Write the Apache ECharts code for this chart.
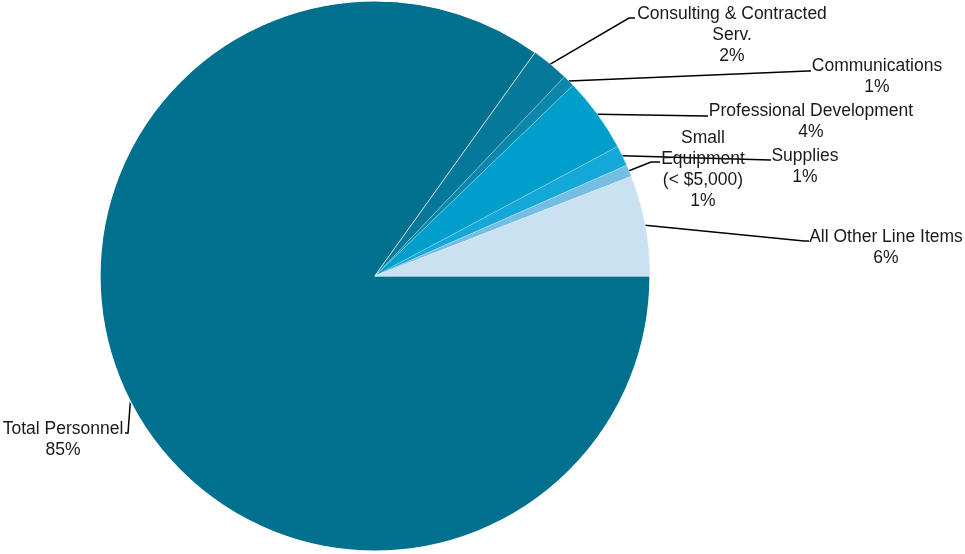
<!DOCTYPE html>
<html>
<head>
<meta charset="utf-8">
<script src="https://cdn.jsdelivr.net/npm/echarts@6/dist/echarts.min.js"></script>
<style>
  html, body { margin: 0; padding: 0; background: #fff; }
  #chart { width: 965px; height: 554px; }
</style>
</head>
<body>
<div id="chart"></div>
<script>
// Budget share by line item (percent of total)
const categories = [
  'Total Personnel',
  'Consulting & Contracted\nServ.',
  'Communications',
  'Professional Development',
  'Supplies',
  'Small\nEquipment\n(< $5,000)',
  'All Other Line Items'
];
const values = [84.9, 2.2, 0.7, 4.4, 1.2, 0.7, 5.9];
const colors = ['#00708f', '#06789a', '#0b87ac', '#009ecb', '#14a8d8', '#74bee3', '#c9e1f1'];

// Where each label sits (centre x, top y) and the elbow of its leader line
const labelPlaces = [
  { x: 63,  y: 419, elbow: [128, 433], end: [125, 433] },
  { x: 732, y: 4,   elbow: [629, 18],  end: [635, 18] },
  { x: 877, y: 56,  elbow: [808, 71],  end: [811, 71] },
  { x: 811, y: 101, elbow: [706, 116], end: [708, 116] },
  { x: 805, y: 146, elbow: [770, 160], end: [771, 160] },
  { x: 703, y: 128, elbow: [651, 162], end: [660, 162] },
  { x: 886, y: 227, elbow: [804, 241], end: [809, 241] }
];

const chart = echarts.init(document.getElementById('chart'));
chart.setOption({
  animation: false,
  textStyle: { fontFamily: 'Liberation Sans, Arial, sans-serif' },
  series: [{
    type: 'pie',
    center: [375, 276],
    radius: 275,
    startAngle: 0,
    clockwise: true,
    percentPrecision: 0,
    data: categories.map((name, i) => ({
      name: name,
      value: values[i],
      itemStyle: i === 0
        ? { color: colors[i], borderColor: '#ffffff', borderWidth: 1.2 }
        : { color: colors[i] }
    })),
    itemStyle: { borderColor: 'rgba(255,255,255,0.35)', borderWidth: 0.6 },
    label: {
      show: true,
      formatter: '{b}\n{d}%',
      color: '#1a1a1a',
      fontSize: 17.5,
      lineHeight: 21,
      align: 'center',
      overflow: 'none'
    },
    labelLine: {
      show: true,
      lineStyle: { color: '#000', width: 1.5 }
    },
    labelLayout: function (params) {
      const p = labelPlaces[params.dataIndex];
      const start = params.labelLinePoints ? params.labelLinePoints[0] : p.elbow;
      return {
        x: p.x,
        y: p.y,
        align: 'center',
        verticalAlign: 'top',
        labelLinePoints: [start, p.elbow, p.end]
      };
    }
  }]
});
</script>
</body>
</html>
